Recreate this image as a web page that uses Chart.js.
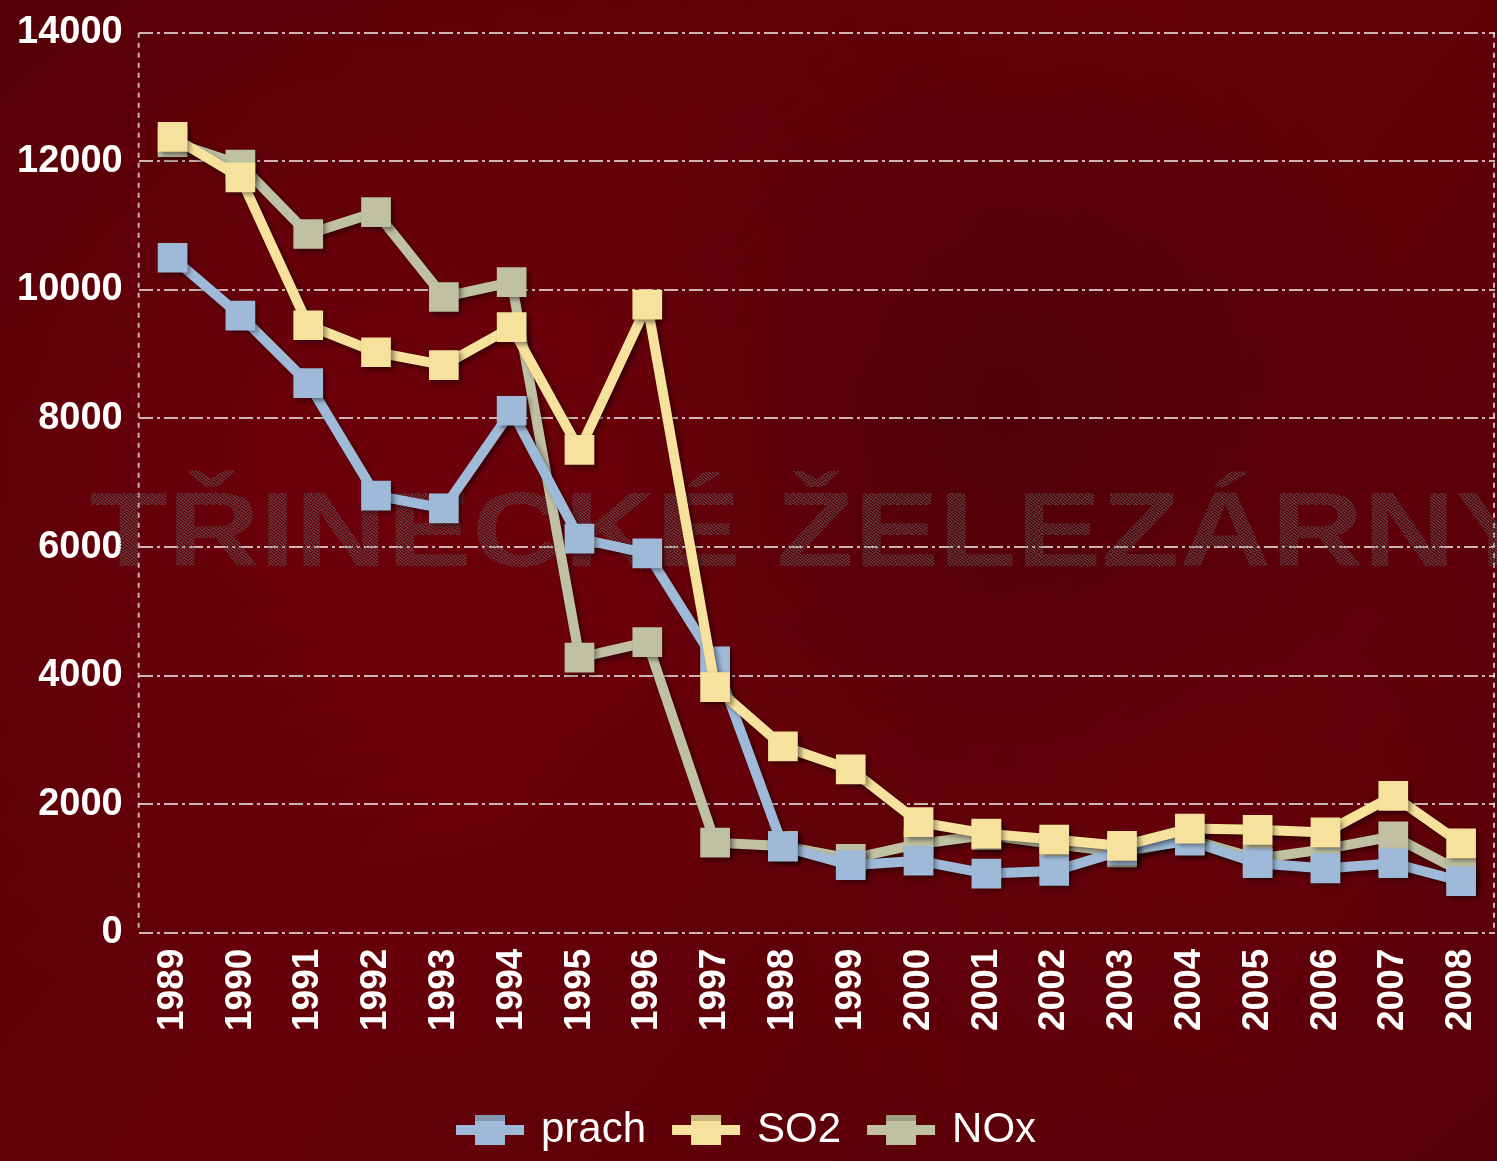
<!DOCTYPE html>
<html>
<head>
<meta charset="utf-8">
<script src="https://cdn.jsdelivr.net/npm/chart.js@4.4.1/dist/chart.umd.min.js"></script>
<style>
  html, body { margin: 0; padding: 0; background: #5c0008; overflow: hidden; }
  canvas { display: block; }
</style>
</head>
<body>
<canvas id="emise" width="1497" height="1161"></canvas>
<script>
// emise - prach, SO2, NOx (t/rok)
var roky = ['1989','1990','1991','1992','1993','1994','1995','1996','1997','1998',
            '1999','2000','2001','2002','2003','2004','2005','2006','2007','2008'];
var prach = [10500, 9600, 8550, 6800, 6600, 8120, 6130, 5900, 4220, 1340,
             1050, 1120, 920, 960, 1280, 1430, 1080, 1000, 1080, 800];
var so2 = [12380, 11750, 9450, 9030, 8830, 9420, 7510, 9770, 3820, 2900,
           2540, 1720, 1540, 1450, 1350, 1620, 1600, 1560, 2130, 1390];
var nox = [12300, 11950, 10870, 11210, 9890, 10120, 4280, 4520, 1400, 1350,
           1150, 1380, 1520, 1380, 1250, 1450, 1150, 1300, 1500, 950];
var yTicks = [0, 2000, 4000, 6000, 8000, 10000, 12000, 14000];

var barvy = { prach: '#9fbad9', so2: '#f6e29c', nox: '#bfc1a2' };

// legend marker: thick line with a square in the middle
function znacka(c) {
  var cv = document.createElement('canvas');
  cv.width = 72; cv.height = 38;
  var g = cv.getContext('2d');
  g.fillStyle = c;
  g.fillRect(2, 14, 68, 10);
  g.fillRect(21, 4, 30, 30);
  g.fillStyle = 'rgba(0,0,0,0.18)';
  g.fillRect(21, 4, 30, 6);
  return cv;
}

// speckled fill for the watermark
function zrnito(ctx) {
  var cv = document.createElement('canvas');
  cv.width = 6; cv.height = 6;
  var g = cv.getContext('2d');
  g.fillStyle = 'rgba(95,102,102,0.9)';
  [[0,0],[3,0],[1,1],[4,1],[5,2],[2,2],[0,3],[3,3],[1,4],[4,5],[2,5],[5,4]].forEach(function(p) {
    g.fillRect(p[0], p[1], 1, 1);
  });
  return ctx.createPattern(cv, 'repeat');
}

var pozadi = {
  id: 'pozadi',
  beforeDraw: function(chart) {
    var ctx = chart.ctx, w = chart.width, h = chart.height;
    ctx.save();
    var lg = ctx.createLinearGradient(0, 0, w, h);
    lg.addColorStop(0, '#520007');
    lg.addColorStop(0.45, '#640009');
    lg.addColorStop(1, '#560008');
    ctx.fillStyle = lg;
    ctx.fillRect(0, 0, w, h);
    var r1 = ctx.createRadialGradient(380, 450, 0, 380, 450, 650);
    r1.addColorStop(0, 'rgba(118,0,12,0.6)');
    r1.addColorStop(1, 'rgba(118,0,12,0)');
    ctx.fillStyle = r1;
    ctx.fillRect(0, 0, w, h);
    var r2 = ctx.createRadialGradient(1200, 820, 0, 1200, 820, 450);
    r2.addColorStop(0, 'rgba(112,0,12,0.45)');
    r2.addColorStop(1, 'rgba(112,0,12,0)');
    ctx.fillStyle = r2;
    ctx.fillRect(0, 0, w, h);
    var r3 = ctx.createRadialGradient(1000, 400, 0, 1000, 400, 420);
    r3.addColorStop(0, 'rgba(50,0,5,0.4)');
    r3.addColorStop(1, 'rgba(50,0,5,0)');
    ctx.fillStyle = r3;
    ctx.fillRect(0, 0, w, h);
    ctx.restore();
  },
  beforeDatasetsDraw: function(chart) {
    var ctx = chart.ctx, a = chart.chartArea;
    ctx.save();
    // dashed frame lines left and right
    ctx.strokeStyle = 'rgba(235,225,225,0.8)';
    ctx.lineWidth = 2;
    ctx.setLineDash([5, 5]);
    ctx.beginPath();
    ctx.moveTo(a.left, a.top); ctx.lineTo(a.left, a.bottom);
    ctx.moveTo(a.right - 1, a.top); ctx.lineTo(a.right - 1, a.bottom);
    ctx.stroke();
    ctx.setLineDash([]);
    // watermark
    var text = 'TŘINECKÉ ŽELEZÁRNY';
    ctx.font = 'bold 106px "Liberation Sans", Arial, sans-serif';
    var tw = ctx.measureText(text).width;
    ctx.translate(90, 566);
    ctx.scale(1450 / tw, 1);
    ctx.fillStyle = zrnito(ctx);
    ctx.textBaseline = 'alphabetic';
    ctx.fillText(text, 0, 0);
    ctx.restore();
  },
  beforeDatasetDraw: function(chart) {
    var ctx = chart.ctx;
    ctx.save();
    ctx.shadowColor = 'rgba(0,0,0,0.45)';
    ctx.shadowBlur = 5;
    ctx.shadowOffsetX = 3;
    ctx.shadowOffsetY = 3;
  },
  afterDatasetDraw: function(chart) {
    chart.ctx.restore();
  }
};

function rada(label, data, barva, poradi) {
  return {
    label: label,
    data: data,
    borderColor: barva,
    backgroundColor: barva,
    borderWidth: 10,
    pointStyle: 'rect',
    pointRadius: 21,
    pointBorderWidth: 0,
    pointBackgroundColor: barva,
    tension: 0,
    order: poradi
  };
}

new Chart('emise', {
  type: 'line',
  data: {
    labels: roky,
    datasets: [
      rada('prach', prach, barvy.prach, 2),
      rada('SO2', so2, barvy.so2, 1),
      rada('NOx', nox, barvy.nox, 3)
    ]
  },
  plugins: [pozadi],
  options: {
    responsive: false,
    animation: false,
    devicePixelRatio: 1,
    layout: { autoPadding: false, padding: { top: 0, right: 2, left: 1, bottom: 0 } },
    plugins: {
      tooltip: { enabled: false },
      legend: {
        position: 'bottom',
        labels: {
          color: '#ffffff',
          font: { family: '"Liberation Sans", Arial, sans-serif', size: 42 },
          usePointStyle: true,
          pointStyleWidth: 60,
          padding: 30,
          sort: function(a, b) { return a.datasetIndex - b.datasetIndex; },
          generateLabels: function(chart) {
            return chart.data.datasets.map(function(ds, i) {
              return {
                text: ds.label,
                fontColor: '#ffffff',
                pointStyle: znacka(ds.borderColor),
                lineWidth: 0,
                strokeStyle: 'transparent',
                fillStyle: ds.borderColor,
                hidden: false,
                datasetIndex: i
              };
            });
          }
        }
      }
    },
    scales: {
      x: {
        offset: true,
        grid: { display: false },
        border: { display: false },
        afterFit: function(ax) {
          ax.height += 40;
          ax.paddingLeft = 0;
          ax.paddingRight = 0;
        },
        ticks: {
          color: '#ffffff',
          minRotation: 90,
          maxRotation: 90,
          padding: 8,
          font: { family: '"Liberation Sans", Arial, sans-serif', size: 37, weight: 'bold' }
        }
      },
      y: {
        min: 0,
        max: 14000,
        afterBuildTicks: function(ax) { ax.ticks = yTicks.map(function(v) { return { value: v }; }); },
        afterFit: function(ax) { ax.paddingTop = Math.max(0, ax.paddingTop - 6); },
        grid: { color: 'rgba(235,225,225,0.8)', lineWidth: 2, drawTicks: false },
        border: { display: false, dash: [14, 4, 3, 4] },
        ticks: {
          color: '#ffffff',
          padding: 16,
          callback: function(v) { return String(v); },
          font: { family: '"Liberation Sans", Arial, sans-serif', size: 38, weight: 'bold' }
        }
      }
    }
  }
});
</script>
</body>
</html>
